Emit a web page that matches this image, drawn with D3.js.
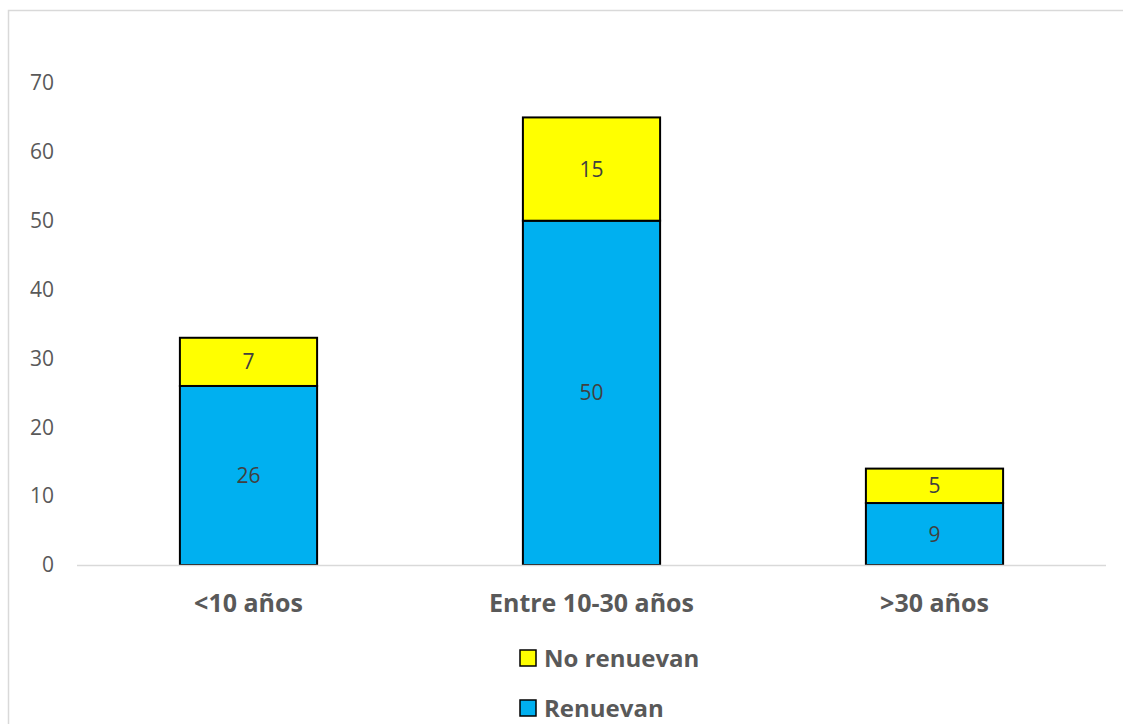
<!DOCTYPE html>
<html><head><meta charset="utf-8">
<script src="https://cdn.jsdelivr.net/npm/d3@7"></script>
<style>
html,body{margin:0;padding:0;background:#fff;}
svg{display:block;font-family:"Open Sans",sans-serif;}
</style></head>
<body><svg id="c" width="1123" height="724"></svg>
<script>
const categories = ["<10 años", "Entre 10-30 años", ">30 años"];
const renuevan = [26, 50, 9];
const noRenuevan = [7, 15, 5];
const yTicks = [0, 10, 20, 30, 40, 50, 60, 70];
const seriesNames = ["Renuevan", "No renuevan"];
const seriesColors = ["#00B0F0", "#FFFF00"];

const svg = d3.select("#c");
svg.append("path").attr("d", "M8.5,724 V10.5 H1123").attr("fill", "none").attr("stroke", "#d9d9d9").attr("stroke-width", 1.5);

const m = {left: 77, right: 1106, top: 83, bottom: 565};
const x = d3.scaleBand().domain(categories).range([m.left, m.right]).paddingInner(0.6).paddingOuter(0.3);
const y = d3.scaleLinear().domain([0, 70]).range([m.bottom, m.top]);

const yAxis = d3.axisLeft(y).tickValues(yTicks).tickSize(0).tickPadding(0);
const gy = svg.append("g").attr("transform", `translate(54,0)`).call(yAxis);
gy.select(".domain").remove();
gy.selectAll("text").attr("font-size", 21).attr("fill", "#595959").attr("font-family", "'Open Sans',sans-serif");

const data = categories.map((c, i) => ({cat: c, vals: [renuevan[i], noRenuevan[i]]}));
const stack = d3.stack().keys([0, 1]).value((d, k) => d.vals[k]);
const layers = stack(data);

layers.forEach((layer, li) => {
  const g = svg.append("g");
  g.selectAll("rect").data(layer).join("rect")
    .attr("x", d => x(d.data.cat))
    .attr("width", x.bandwidth())
    .attr("y", d => y(d[1]))
    .attr("height", d => y(d[0]) - y(d[1]))
    .attr("fill", seriesColors[li])
    .attr("stroke", "#000").attr("stroke-width", 2);
  g.selectAll("text").data(layer).join("text")
    .attr("x", d => x(d.data.cat) + x.bandwidth() / 2)
    .attr("y", d => (y(d[0]) + y(d[1])) / 2)
    .attr("dy", "0.36em")
    .attr("text-anchor", "middle")
    .attr("font-size", 21).attr("fill", "#404040")
    .text(d => d[1] - d[0]);
});

const xAxis = d3.axisBottom(x).tickSize(0).tickPadding(0);
const gx = svg.append("g").attr("transform", `translate(0,${m.bottom})`).call(xAxis);
gx.select(".domain").attr("stroke", "#d9d9d9").attr("stroke-width", 1.5).attr("d", `M${m.left},0.5H${m.right}`);
gx.selectAll("text").attr("y", 47).attr("dy", 0).attr("font-size", 25).attr("font-weight", "bold").attr("fill", "#595959").attr("font-family", "'Open Sans',sans-serif");

const legendOrder = [1, 0];
const lg = svg.append("g");
legendOrder.forEach((si, i) => {
  const yy = 650 + i * 50;
  lg.append("rect").attr("x", 520).attr("y", yy).attr("width", 16).attr("height", 16)
    .attr("fill", seriesColors[si]).attr("stroke", "#000").attr("stroke-width", 1.5);
  lg.append("text").attr("x", 544).attr("y", yy + 17).attr("font-size", 24).attr("font-weight", "bold")
    .attr("fill", "#595959").text(seriesNames[si]);
});
</script></body></html>
